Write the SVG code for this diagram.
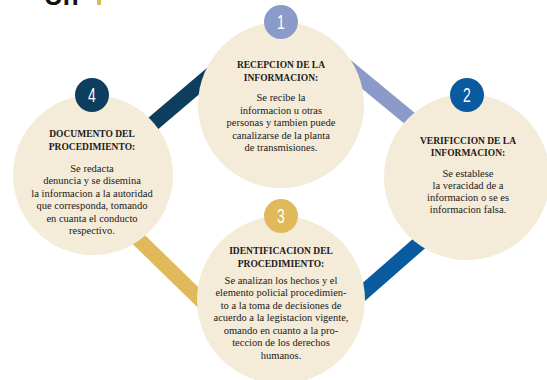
<svg xmlns="http://www.w3.org/2000/svg" width="547" height="380" viewBox="0 0 547 380">
<style>
.disc{fill:#f4ebd8}
.bar{stroke-width:15;stroke-linecap:butt;fill:none}
.t{font-family:"Liberation Serif","Times New Roman",serif;font-weight:bold;font-size:9.5px;fill:#1a1a1a;text-anchor:middle}
.b{font-family:"Liberation Serif","Times New Roman",serif;font-size:10.5px;fill:#1a1a1a;text-anchor:middle}
.n{font-family:"Liberation Sans","Arial",sans-serif;font-size:20px;fill:#ffffff;text-anchor:middle}
</style>
<rect width="547" height="380" fill="#ffffff"/>
<text x="44" y="5" font-family="Liberation Sans, Arial, sans-serif" font-weight="bold" font-size="26" fill="#111111">Un</text>
<rect x="97" y="0" width="4" height="5" fill="#e0b95a"/>
<g id="connectors">
<line class="bar" stroke="#0e3e5e" x1="135" y1="139" x2="222" y2="65"/>
<line class="bar" stroke="#8b9ac8" x1="345" y1="65" x2="425" y2="131"/>
<line class="bar" stroke="#e0b95a" x1="130" y1="231" x2="210" y2="309"/>
<line class="bar" stroke="#0a5aa0" x1="430" y1="234" x2="350" y2="304"/>
</g>
<g id="node1">
<circle class="disc" cx="281" cy="105" r="83"/>
<circle cx="281" cy="22" r="17" fill="#8b9ac8"/>
<text class="n" transform="translate(281 29) scale(0.7 1)">1</text>
<text class="t" x="281" y="68">RECEPCION DE LA</text>
<text class="t" x="281" y="81">INFORMACION:</text>
<text class="b" x="281" y="101">Se recibe la</text>
<text class="b" x="281" y="113.5">informacion u otras</text>
<text class="b" x="281" y="126">personas y tambien puede</text>
<text class="b" x="281" y="138.5">canalizarse de la planta</text>
<text class="b" x="281" y="151">de transmisiones.</text>
</g>
<g id="node2">
<circle class="disc" cx="467" cy="177" r="83"/>
<circle cx="467" cy="95" r="17" fill="#0a5aa0"/>
<text class="n" transform="translate(467 102) scale(0.7 1)">2</text>
<text class="t" x="468" y="144">VERIFICCION DE LA</text>
<text class="t" x="468" y="156">INFORMACION:</text>
<text class="b" x="468" y="177">Se establese</text>
<text class="b" x="468" y="189">la veracidad de a</text>
<text class="b" x="468" y="201">informacion o se es</text>
<text class="b" x="468" y="213">informacion falsa.</text>
</g>
<g id="node3">
<circle class="disc" cx="281" cy="300" r="84"/>
<circle cx="281" cy="216" r="17" fill="#e0b95a"/>
<text class="n" transform="translate(281 223) scale(0.7 1)">3</text>
<text class="t" x="281" y="254">IDENTIFICACION DEL</text>
<text class="t" x="281" y="267">PROCEDIMIENTO:</text>
<text class="b" x="281" y="283.5">Se analizan los hechos y el</text>
<text class="b" x="281" y="296">elemento policial procedimien-</text>
<text class="b" x="281" y="308.5">to a la toma de decisiones de</text>
<text class="b" x="281" y="321">acuerdo a la legistacion vigente,</text>
<text class="b" x="281" y="333.5">omando en cuanto a la pro-</text>
<text class="b" x="281" y="346">teccion de los derechos</text>
<text class="b" x="281" y="358.5">humanos.</text>
</g>
<g id="node4">
<circle class="disc" cx="93" cy="175" r="80"/>
<circle cx="92" cy="95" r="17" fill="#0e3e5e"/>
<text class="n" transform="translate(92 102) scale(0.7 1)">4</text>
<text class="t" x="92" y="137">DOCUMENTO DEL</text>
<text class="t" x="92" y="150">PROCEDIMIENTO:</text>
<text class="b" x="92" y="171.5">Se redacta</text>
<text class="b" x="92" y="184">denuncia y se disemina</text>
<text class="b" x="92" y="196.5">la informacion a la autoridad</text>
<text class="b" x="92" y="209">que corresponda, tomando</text>
<text class="b" x="92" y="221.5">en cuanta el conducto</text>
<text class="b" x="92" y="234">respectivo.</text>
</g>
</svg>
